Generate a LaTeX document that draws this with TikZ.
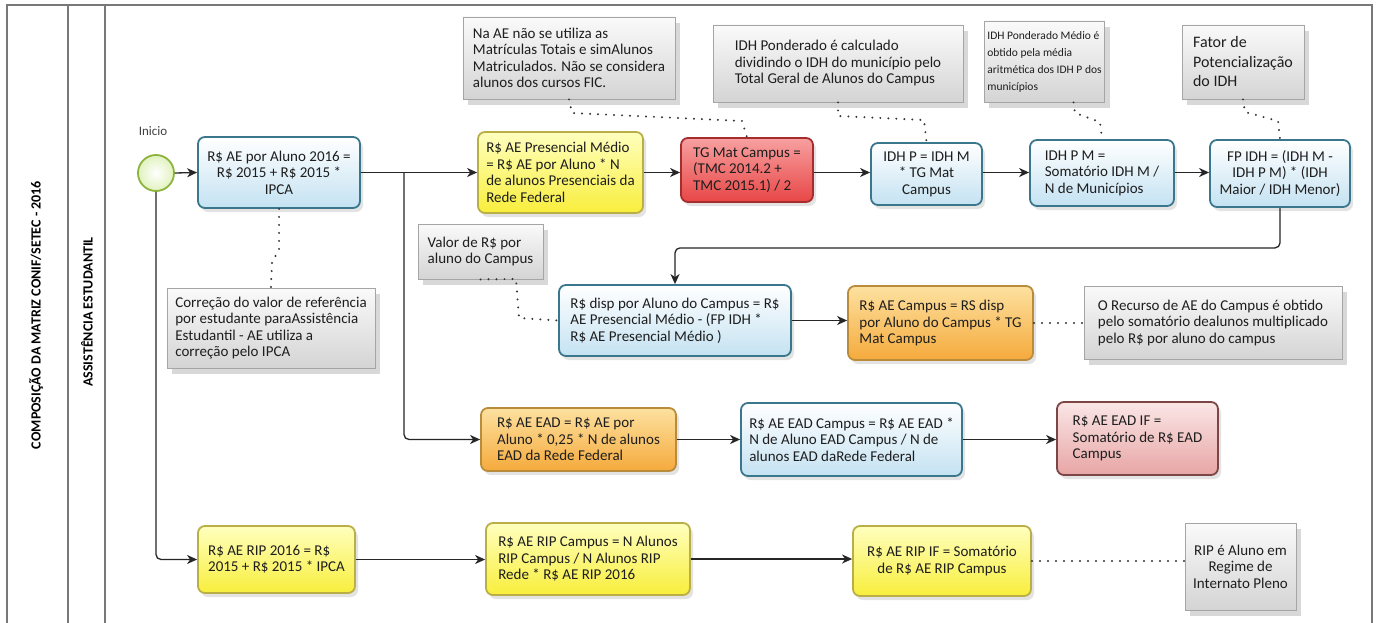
\documentclass[tikz,border=0pt]{standalone}
\usepackage{fontspec}
\setmainfont{Carlito}
\usetikzlibrary{arrows.meta,shadows}
\definecolor{bbord}{RGB}{58,118,140}
\definecolor{bfill}{RGB}{196,226,242}
\definecolor{ybord}{RGB}{185,175,70}
\definecolor{yfillA}{RGB}{255,255,190}
\definecolor{yfillB}{RGB}{248,238,60}
\definecolor{rbord}{RGB}{165,45,45}
\definecolor{rfillA}{RGB}{248,160,160}
\definecolor{rfillB}{RGB}{232,70,70}
\definecolor{obord}{RGB}{185,140,60}
\definecolor{ofillA}{RGB}{253,225,160}
\definecolor{ofillB}{RGB}{245,170,60}
\definecolor{pbord}{RGB}{125,70,70}
\definecolor{pfillA}{RGB}{250,230,230}
\definecolor{pfillB}{RGB}{232,165,165}
\definecolor{nbord}{RGB}{165,165,165}
\definecolor{nfillA}{RGB}{250,250,250}
\definecolor{nfillB}{RGB}{212,212,212}
\definecolor{gbord}{RGB}{140,180,60}
\definecolor{gfill}{RGB}{225,242,190}
\definecolor{framec}{RGB}{120,120,120}
\definecolor{txt}{RGB}{30,30,30}
\begin{document}
\begin{tikzpicture}[x=1pt,y=-1pt,
  sz/.style 2 args={minimum width=#1pt, minimum height=#2pt},
  box/.style={rounded corners=7pt, line width=1.8pt, text=txt,
    font=\fontsize{15}{16.5}\selectfont, inner xsep=6pt, inner ysep=3pt,
    drop shadow={opacity=0.22, shadow xshift=3pt, shadow yshift=-4pt}},
  bluebox/.style={box, draw=bbord, top color=white, bottom color=bfill},
  yelbox/.style={box, draw=ybord, top color=yfillA, bottom color=yfillB},
  redbox/.style={box, draw=rbord, top color=rfillA, bottom color=rfillB},
  orabox/.style={box, draw=obord, top color=ofillA, bottom color=ofillB},
  pinkbox/.style={box, draw=pbord, top color=pfillA, bottom color=pfillB},
  note/.style={draw=nbord, line width=0.8pt, top color=nfillA, bottom color=nfillB,
    text=txt, font=\fontsize{15}{16.5}\selectfont, inner xsep=6pt, inner ysep=3pt,
    drop shadow={opacity=0.3, shadow xshift=5pt, shadow yshift=-6pt}},
  flow/.style={line width=1.3pt, draw=black!85, -{Stealth[length=10pt,width=9pt,inset=3pt]}},
  assoc/.style={line width=2.2pt, draw=black!80, dash pattern=on 0pt off 8pt, line cap=round},
  framel/.style={draw=framec, line width=1.4pt},
  lanetext/.style={rotate=90, font=\bfseries\fontsize{14}{16}\selectfont, text=black}
]
\useasboundingbox (0,0) rectangle (1381,623);
\fill[white] (0,0) rectangle (1381,623);

% pool frame
\draw[framel] (7,623) -- (7,5) -- (1372,5) -- (1372,623);
\draw[framel] (68,5) -- (68,623);
\draw[framel] (105,5) -- (105,623);
\node[lanetext] (pool) at (36,315) {COMPOSIÇÃO DA MATRIZ CONIF/SETEC - 2016};
\node[lanetext] (lane) at (87,312) {ASSISTÊNCIA ESTUDANTIL};

% start
\node[circle, minimum size=36pt, inner sep=0pt, draw=gbord, line width=1.8pt,
  inner color=white, outer color=gfill] (start) at (156,173) {};
\node[font=\fontsize{13}{15}\selectfont, text=black!75] (lbl) at (153,131) {Inicio};

% row 1
\node[bluebox, sz={162}{71}, align=center] (b1) at (279,172.5)
  {R\$ AE por Aluno 2016 =\\ R\$ 2015 + R\$ 2015 *\\ IPCA};
\node[yelbox, sz={165}{81}, align=left] (b2) at (560.5,172.5)
  {R\$ AE Presencial Médio\\ = R\$ AE por Aluno * N\\ de alunos Presenciais da\\ Rede Federal};
\node[redbox, sz={132}{64}, align=left] (b3) at (747,170)
  {TG Mat Campus =\\ (TMC 2014.2 +\\ TMC 2015.1) / 2};
\node[bluebox, sz={111}{62}, align=center] (b4) at (926.5,174)
  {IDH P = IDH M\\ * TG Mat\\ Campus};
\node[bluebox, sz={144}{66}, align=left] (b5) at (1102,173)
  {IDH P M =\\ Somatório IDH M /\\ N de Municípios};
\node[bluebox, sz={140}{67}, align=center] (b6) at (1280,173.5)
  {FP IDH = (IDH M -\\ IDH P M) * (IDH\\ Maior / IDH Menor)};

% row 2
\node[bluebox, sz={232}{71}, align=left] (b7) at (675,320.5)
  {R\$ disp por Aluno do Campus = R\$\\ AE Presencial Médio - (FP IDH *\\ R\$ AE Presencial Médio )};
\node[orabox, sz={185}{74}, align=left] (b8) at (940.5,323)
  {R\$ AE Campus = RS disp\\ por Aluno do Campus * TG\\ Mat Campus};

% row 3
\node[orabox, sz={195}{63}, align=left] (b9) at (578.5,439.5)
  {R\$ AE EAD = R\$ AE por\\ Aluno * 0,25 * N de alunos\\ EAD da Rede Federal};
\node[bluebox, sz={221}{73}, align=left] (b10) at (851.5,439.5)
  {R\$ AE EAD Campus = R\$ AE EAD *\\ N de Aluno EAD Campus / N de\\ alunos EAD daRede Federal};
\node[pinkbox, sz={161}{73}, align=left] (b11) at (1137.5,438.5)
  {R\$ AE EAD IF =\\ Somatório de R\$ EAD\\ Campus};

% row 4
\node[yelbox, sz={157}{67}, align=left] (b12) at (276.5,559.5)
  {R\$ AE RIP 2016 = R\$\\ 2015 + R\$ 2015 * IPCA};
\node[yelbox, sz={204}{72}, align=left] (b13) at (588,559)
  {R\$ AE RIP Campus = N Alunos\\ RIP Campus / N Alunos RIP\\ Rede * R\$ AE RIP 2016};
\node[yelbox, sz={178}{70}, align=center] (b14) at (942,561)
  {R\$ AE RIP IF = Somatório\\ de R\$ AE RIP Campus};

% notes
\node[note, sz={212}{82}, align=left] (n1) at (569,58)
  {Na AE não se utiliza as\\ Matrículas Totais e simAlunos\\ Matriculados. Não se considera\\ alunos dos cursos FIC.};
\node[note, sz={250}{77}, align=left] (n2) at (838,63.5)
  {IDH Ponderado é calculado\\ dividindo o IDH do município pelo\\ Total Geral de Alunos do Campus};
\node[note, sz={113}{81}, align=left, inner xsep=3pt, font=\fontsize{11.5}{17}\selectfont] (n3) at (1044.5,61.5)
  {IDH Ponderado Médio é\\ obtido pela média\\ aritmética dos IDH P dos\\ municípios};
\node[note, sz={122}{74}, align=left, font=\fontsize{16}{19.5}\selectfont] (n4) at (1243,62)
  {Fator de\\ Potencialização\\ do IDH};
\node[note, sz={208}{80}, align=left] (n5) at (271,328)
  {Correção do valor de referência\\ por estudante paraAssistência\\ Estudantil - AE utiliza a\\ correção pelo IPCA};
\node[note, sz={125}{55}, align=left] (n6) at (480.5,251.5)
  {Valor de R\$ por\\ aluno do Campus};
\node[note, sz={258}{73}, align=left] (n7) at (1213,322.5)
  {O Recurso de AE do Campus é obtido\\ pelo somatório dealunos multiplicado\\ pelo R\$ por aluno do campus};
\node[note, sz={111}{87}, align=center] (n8) at (1240.5,566.5)
  {RIP é Aluno em\\ Regime de\\ Internato Pleno};

% flows
\coordinate (br1) at (404,172.5);
\draw[flow] (start.east) -- (b1.west);
\draw[flow] (b1.east) -- (b2.west);
\draw[flow] (b2.east) -- (b2.east -| b3.west);
\draw[flow] (b3.east |- b2.east) -- (b2.east -| b4.west);
\draw[flow] (b4.east |- b2.east) -- (b2.east -| b5.west);
\draw[flow] (b5.east |- b2.east) -- (b2.east -| b6.west);
\draw[flow, rounded corners=5pt] (b6.south) -- ++(0,40) -| (b7.north);
\draw[flow] (b7.east) -- (b7.east -| b8.west);
\draw[flow, rounded corners=5pt] (br1) |- (b9.west);
\draw[flow] (b9.east) -- (b10.west);
\draw[flow] (b10.east) -- (b10.east -| b11.west);
\draw[flow, rounded corners=5pt] (start.south) |- (b12.west);
\draw[flow] (b12.east) -- (b12.east -| b13.west);
\draw[flow] (b13.east) -- (b13.east -| b14.west);

% associations
\draw[assoc] (n1.south) -- (572,113) -- (742,121) -- (b3.north);
\draw[assoc] (n2.south) -- (838,116) -- (924,120) -- (b4.north);
\draw[assoc] ([xshift=29pt]n3.south) -- (1075,113) -- (1100,122) -- (b5.north);
\draw[assoc] (n4.south) -- (1245,112) -- (1278,121) -- (b6.north);
\draw[assoc] (b1.south) -- (279,250) -- (272,262) -- (n5.north);
\draw[assoc] (n6.south) -- (516,279) -- (519,318) -- (b7.west);
\draw[assoc] (b8.east) -- (b8.east -| n7.west);
\draw[assoc] (b14.east) -- (b14.east -| n8.west);
\end{tikzpicture}
\end{document}
